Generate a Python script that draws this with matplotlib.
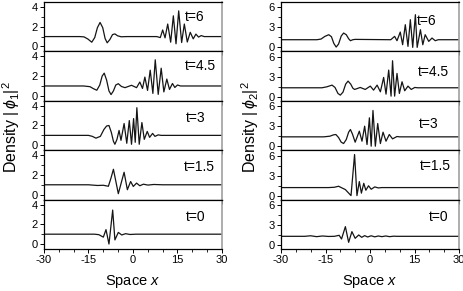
import matplotlib
matplotlib.use("Agg")
import matplotlib.pyplot as plt
from matplotlib.ticker import MultipleLocator

plt.rcParams['font.family'] = ['Liberation Sans', 'DejaVu Sans']
plt.rcParams['axes.unicode_minus'] = False
plt.rcParams['mathtext.fontset'] = 'custom'
plt.rcParams['mathtext.rm'] = 'Liberation Sans'
plt.rcParams['mathtext.it'] = 'Liberation Sans:italic'

times = ["t=6", "t=4.5", "t=3", "t=1.5", "t=0"]

# ---- left column: |phi_1|^2 ----
L6_x = [-30, -18, -16.5, -15.2, -13.9, -12.9, -12.0, -11.1, -10.2, -9.4, -8.7, -7.8, -6.9, -6.1, -5.2, -4.0, -2, 8, 9.2, 10.0, 10.8, 11.7, 12.7, 13.6, 14.5, 15.4, 16.4, 17.3, 18.3, 19.3, 20.3, 21.2, 22.1, 23.0, 24, 30]
L6_y = [1, 1, 0.97, 0.75, 0.43, 0.9, 1.9, 2.43, 1.9, 0.8, 0.37, 0.7, 1.2, 1.27, 1.08, 0.98, 1.0, 1.0, 0.9, 1.67, 0.87, 2.27, 0.43, 3.1, 0.27, 3.6, 0.4, 2.27, 0.45, 1.43, 0.77, 1.25, 0.95, 1.1, 1.0, 1]

L45_x = [-30, -16.7, -14.5, -13.3, -12.2, -11.2, -10.4, -9.7, -8.9, -8.1, -7.4, -6.6, -5.8, -4.95, -3.9, -2.7, -0.5, 1.2, 2.3, 3.2, 4.0, 4.9, 5.8, 6.7, 7.5, 8.5, 9.5, 10.4, 11.4, 12.3, 13.3, 14.1, 15.0, 16, 30]
L45_y = [1, 1, 0.93, 0.72, 0.57, 1.1, 2.0, 2.3, 1.6, 0.5, 0.13, 0.5, 1.1, 1.23, 0.95, 0.83, 1.07, 0.83, 1.4, 0.75, 1.9, 0.55, 2.6, 0.25, 3.65, 0.15, 2.8, 0.4, 1.7, 0.65, 1.25, 0.85, 1.1, 1.0, 1]

L3_x = [-30, -15, -13.7, -12.5, -11, -9.8, -8.9, -8.1, -7.3, -6.6, -6.1, -5.4, -4.7, -4.05, -3.0, -2.1, -1.25, -0.5, 0.2, 0.75, 1.3, 2.1, 3.0, 3.8, 4.8, 5.6, 6.6, 7.4, 8.5, 9.5, 30]
L3_y = [1, 1, 0.9, 0.72, 0.9, 1.6, 1.95, 2.0, 1.3, 0.4, 0.1, 0.6, 1.5, 0.5, 2.2, 0.2, 2.5, 0.1, 2.7, 0.3, 3.8, 0.1, 2.3, 0.6, 1.4, 0.8, 1.2, 0.9, 1.05, 1.0, 1]

L15_x = [-30, -15, -12, -10, -8.3, -7.4, -6.6, -4.95, -3.0, -1.9, -0.8, 0.1, 1.2, 2.3, 3.5, 5, 7, 10, 30]
L15_y = [1, 1, 0.93, 0.95, 0.85, 1.7, 2.57, 0.1, 2.27, 0.5, 1.33, 0.83, 1.17, 0.9, 1.06, 0.97, 1.03, 1, 1]

L0_x = [-30, -13, -11.5, -10.0, -9.1, -8.1, -6.85, -6.1, -4.95, -3.8, -2.5, -1, 1, 30]
L0_y = [1, 1, 0.95, 0.7, 1.46, 0.0, 3.44, 0.42, 1.18, 0.92, 1.05, 0.97, 1.0, 1]

# ---- right column: |phi_2|^2 ----
R6_x = [-30, -17.9, -16.5, -15.2, -13.9, -13.0, -12.2, -11.4, -10.6, -9.7, -8.9, -8.0, -7.2, -6.6, -5.8, -5, 7, 8.3, 9.1, 10.2, 11.0, 11.9, 12.8, 13.6, 14.4, 15.3, 15.9, 17.0, 17.8, 18.6, 19.8, 20.9, 22.0, 23, 30]
R6_y = [1.15, 1.15, 1.25, 1.65, 1.9, 1.6, 0.6, 0.05, 0.5, 1.7, 2.15, 1.9, 1.3, 1.0, 1.15, 1.2, 1.15, 1.65, 1.0, 2.3, 0.4, 3.4, 0.15, 4.15, 0.0, 4.9, 0.0, 2.65, 0.4, 1.9, 0.9, 1.4, 1.0, 1.15, 1.15]

R45_x = [-30, -16.2, -14.5, -12.8, -11.8, -10.8, -10.0, -9.1, -8.2, -7.4, -6.5, -5.8, -5.2, -4.2, -3.3, -1.6, 0.1, 1.2, 2.4, 3.5, 4.6, 5.4, 6.3, 7.1, 7.6, 8.3, 9.1, 9.9, 10.8, 11.7, 12.8, 13.9, 15.1, 16, 30]
R45_y = [1.35, 1.35, 1.5, 1.75, 1.4, 0.5, 0.25, 0.7, 1.9, 2.35, 1.9, 1.3, 1.1, 1.25, 1.4, 1.1, 1.6, 1.0, 1.75, 0.75, 2.9, 0.4, 4.0, 0.1, 5.4, 0.1, 3.5, 0.5, 2.25, 0.9, 1.6, 1.1, 1.4, 1.35, 1.35]

R3_x = [-30, -15.6, -13.5, -12.3, -11.5, -10.6, -9.7, -8.9, -8.0, -7.2, -6.6, -5.9, -5.0, -3.6, -2.7, -1.8, -1.0, -0.2, 0.4, 1.0, 1.8, 2.6, 3.5, 4.4, 5.4, 6.5, 7.6, 9.1, 10, 30]
R3_y = [1.4, 1.4, 1.5, 1.7, 1.75, 1.3, 0.6, 0.4, 1.0, 2.1, 2.5, 1.8, 0.6, 2.25, 0.75, 3.0, 0.25, 4.25, 0.0, 5.35, 0.0, 3.4, 0.4, 2.1, 0.75, 1.75, 1.1, 1.45, 1.4, 1.4]

R15_x = [-30, -14, -12, -10.6, -8.3, -6.4, -5.2, -4.4, -3.6, -2.9, -2.1, -1.4, -0.5, 0.4, 1.6, 2.8, 4, 30]
R15_y = [1.2, 1.2, 1.25, 1.4, 0.9, 0.0, 6.15, 0.0, 2.1, 0.37, 1.84, 0.8, 1.47, 0.95, 1.3, 1.15, 1.2, 1.2]

R0_x = [-30, -22, -20, -18, -16, -14, -12, -10.4, -9.6, -8.3, -7.2, -6.1, -5.0, -3.8, -2.8, -1.8, -0.8, 0.4, 1.6, 2.8, 4, 5.3, 6.6, 8, 9, 30]
R0_y = [1.3, 1.3, 1.38, 1.25, 1.35, 1.28, 1.3, 1.45, 0.9, 2.75, 0.4, 2.0, 1.0, 1.5, 1.15, 1.4, 1.2, 1.38, 1.22, 1.35, 1.25, 1.35, 1.25, 1.32, 1.3, 1.3]

left_series = [(L6_x, L6_y), (L45_x, L45_y), (L3_x, L3_y), (L15_x, L15_y), (L0_x, L0_y)]
right_series = [(R6_x, R6_y), (R45_x, R45_y), (R3_x, R3_y), (R15_x, R15_y), (R0_x, R0_y)]

x_ticks = [-30, -15, 0, 15, 30]
x_tick_labels = ["-30", "-15", "0", "15", "30"]

W, H = 464, 291
fig = plt.figure(figsize=(W / 100, H / 100), dpi=100)

top_px, bot_px = 2, 249
ph = (bot_px - top_px) / 5.0

left_text_pos = [(17.5, 2.95), (17.5, 3.0), (17.8, 2.8), (17.2, 2.8), (17.8, 2.75)]
right_text_pos = [(15.8, 3.9), (16.2, 3.75), (16.4, 3.25), (16.8, 4.5), (19.8, 4.15)]


def make_col(left_px, series, ylim, major, minor, text_pos, ylabel, ylabel_x):
    for i, (xs, ys) in enumerate(series):
        top = top_px + i * ph
        ax = fig.add_axes([left_px / W, 1 - (top + ph) / H, 178 / W, ph / H])
        ax.plot(xs, ys, color='#151515', lw=0.9)
        ax.set_xlim(-30, 30)
        ax.set_ylim(*ylim)
        ax.xaxis.set_major_locator(MultipleLocator(15))
        ax.xaxis.set_minor_locator(MultipleLocator(5))
        ax.yaxis.set_major_locator(MultipleLocator(major))
        ax.yaxis.set_minor_locator(MultipleLocator(minor))
        ax.tick_params(which='major', direction='out', length=3, width=0.7, labelsize=8, pad=1.5)
        ax.tick_params(which='minor', direction='out', length=2, width=0.6)
        for s in ax.spines.values():
            s.set_linewidth(0.9)
        ax.spines['right'].set_color('#a0a0a0')
        ax.spines['right'].set_linewidth(1.2)
        if i < 4:
            ax.tick_params(axis='x', labelbottom=False)
        else:
            ax.set_xticks(x_ticks)
            ax.set_xticklabels(x_tick_labels)
        tx, ty = text_pos[i]
        ax.text(tx, ty, times[i], fontsize=10, ha='left', va='center')
    fig.text(ylabel_x / W, 1 - 127 / H, ylabel, rotation=90, ha='center', va='center', fontsize=11.5)
    fig.text((left_px + 89) / W, 1 - 281 / H, r'Space $\mathit{x}$', ha='center', va='center', fontsize=10.5)


make_col(44, left_series, (-0.5, 4.5), 2, 1, left_text_pos, r'Density $|\,\phi_1|^2$', 11)
make_col(281, right_series, (-0.6, 6.8), 3, 1.5, right_text_pos, r'Density $|\,\phi_2|^2$', 250)

fig.savefig("out.png", dpi=100)
